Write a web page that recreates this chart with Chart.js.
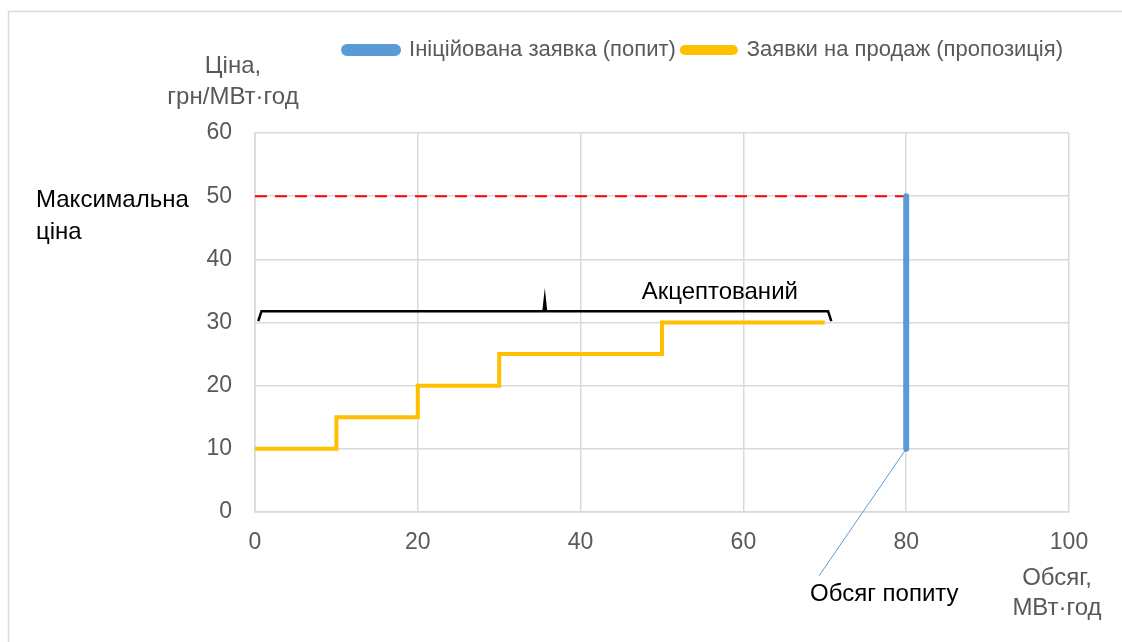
<!DOCTYPE html>
<html>
<head>
<meta charset="utf-8">
<script src="https://cdn.jsdelivr.net/npm/chart.js@4"></script>
<style>
  body { margin: 0; background: #fff; }
  canvas { display: block; }
</style>
</head>
<body>
<canvas id="marketChart" width="1122" height="642"></canvas>
<script>
// Data
const supplyX = [0, 10, 10, 20, 20, 30, 30, 50, 50, 70];
const supplyY = [10, 10, 15, 15, 20, 20, 25, 25, 30, 30];
const demandX = [80, 80];
const demandY = [10, 50];
const maxPriceX = [0, 80];
const maxPriceY = [50, 50];
const braceX = [0.4, 0.8, 35.45, 35.6, 35.75, 70.4, 70.8];
const braceY = [30.2, 31.8, 31.8, 33.6, 31.8, 31.8, 30.2];
const leaderX = [80, 69.3];
const leaderY = [10, -10.1];
const xTicks = [0, 20, 40, 60, 80, 100];
const yTicks = [0, 10, 20, 30, 40, 50, 60];

const seriesNames = ['Ініційована заявка (попит)', 'Заявки на продаж (пропозиція)'];

const toPoints = (xs, ys) => xs.map((x, i) => ({ x: x, y: ys[i] }));

const FONT = "'Liberation Sans', Arial, sans-serif";
const GRID = '#d9d9d9';
const GREY = '#595959';

// push the plot area down, leaving the legend at the very top
const legendGap = {
    id: 'legendGap',
    beforeInit(chart) {
        const fit = chart.legend.fit;
        chart.legend.fit = function () {
            fit.call(this);
            this.height += 62;
        };
    }
};

// extra labels and the outer frame
const textPlugin = {
    id: 'textPlugin',
    afterDraw(chart) {
        const ctx = chart.ctx;
        const xs = chart.scales.x, ys = chart.scales.y;
        ctx.save();
        ctx.strokeStyle = GRID;
        ctx.lineWidth = 1.5;
        ctx.beginPath();
        ctx.moveTo(8.5, 642);
        ctx.lineTo(8.5, 11.5);
        ctx.lineTo(1122, 11.5);
        ctx.stroke();

        ctx.font = '24px ' + FONT;
        ctx.textBaseline = 'middle';
        ctx.fillStyle = GREY;
        ctx.textAlign = 'center';
        ctx.fillText('Ціна,', 233, 66);
        ctx.fillText('грн/МВт·год', 233, 97);
        ctx.fillText('Обсяг,', 1057, 578);
        ctx.fillText('МВт·год', 1057, 608);

        ctx.fillStyle = '#000';
        ctx.textAlign = 'left';
        ctx.fillText('Максимальна', 36, 200);
        ctx.fillText('ціна', 36, 232);
        ctx.fillText('Обсяг попиту', 810, 594);
        ctx.textAlign = 'center';
        ctx.fillText('Акцептований', xs.getPixelForValue(57.1), ys.getPixelForValue(34.8));
        ctx.restore();
    }
};

const ctx = document.getElementById('marketChart').getContext('2d');
const marketChart = new Chart(ctx, {
    type: 'scatter',
    data: {
        datasets: [
            {
                label: seriesNames[0],
                data: toPoints(demandX, demandY),
                showLine: true,
                borderColor: '#5b9bd5',
                backgroundColor: '#5b9bd5',
                borderWidth: 6,
                borderCapStyle: 'round',
                pointRadius: 0,
                order: 1
            },
            {
                label: seriesNames[1],
                data: toPoints(supplyX, supplyY),
                showLine: true,
                borderColor: '#ffc000',
                backgroundColor: '#ffc000',
                borderWidth: 4,
                pointRadius: 0,
                order: 2
            },
            {
                label: 'max',
                data: toPoints(maxPriceX, maxPriceY),
                showLine: true,
                borderColor: '#ff0000',
                borderWidth: 2,
                borderDash: [12, 8],
                pointRadius: 0,
                order: 3
            },
            {
                label: 'brace',
                data: toPoints(braceX, braceY),
                showLine: true,
                borderColor: '#000',
                borderWidth: 2.5,
                pointRadius: 0,
                order: 4
            },
            {
                label: 'leader',
                data: toPoints(leaderX, leaderY),
                showLine: true,
                borderColor: '#5b9bd5',
                borderWidth: 1,
                pointRadius: 0,
                clip: false,
                order: 0
            }
        ]
    },
    options: {
        responsive: false,
        animation: false,
        layout: { padding: { top: 33, right: 53, left: 0, bottom: 0 } },
        plugins: {
            legend: {
                align: 'end',
                labels: {
                    filter: item => seriesNames.includes(item.text),
                    boxWidth: 54,
                    boxHeight: 6,
                    useBorderRadius: true,
                    borderRadius: 3,
                    color: GREY,
                    font: { family: FONT, size: 22 },
                    padding: 6
                }
            },
            tooltip: { enabled: false }
        },
        scales: {
            x: {
                type: 'linear',
                min: 0,
                max: 100,
                afterBuildTicks: s => { s.ticks = xTicks.map(v => ({ value: v })); },
                afterFit: s => { s.height = 130; },
                grid: { color: GRID, lineWidth: 1.5, drawTicks: false },
                border: { color: GRID, width: 1.5 },
                ticks: { color: GREY, font: { family: FONT, size: 23 }, padding: 17 }
            },
            y: {
                type: 'linear',
                min: 0,
                max: 60,
                afterBuildTicks: s => { s.ticks = yTicks.map(v => ({ value: v })); },
                afterFit: s => { s.width = 255; },
                grid: { color: GRID, lineWidth: 1.5, drawTicks: false },
                border: { color: GRID, width: 1.5 },
                ticks: { color: GREY, font: { family: FONT, size: 23 }, padding: 23 }
            }
        }
    },
    plugins: [legendGap, textPlugin]
});
</script>
</body>
</html>
